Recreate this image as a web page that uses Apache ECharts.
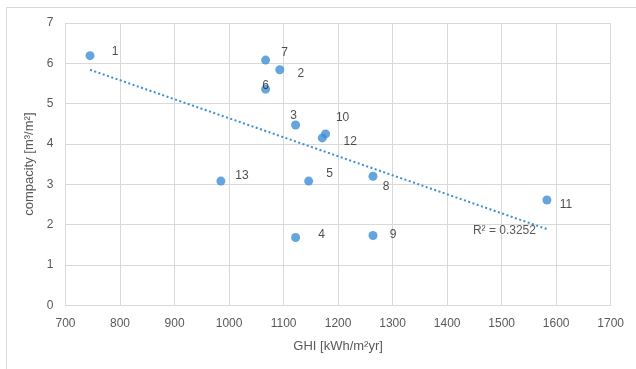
<!DOCTYPE html>
<html>
<head>
<meta charset="utf-8">
<script src="https://cdn.jsdelivr.net/npm/echarts@6/dist/echarts.min.js"></script>
<style>
  html, body { margin: 0; padding: 0; background: #fff; }
  #chart { width: 636px; height: 369px; }
</style>
</head>
<body>
<div id="chart"></div>
<script>
// Case numbers, annual irradiation and compacity of each building
const caseIds = ['1', '2', '3', '4', '5', '6', '7', '8', '9', '10', '11', '12', '13'];
const ghi = [745, 1093, 1122, 1122, 1146, 1067, 1067, 1264, 1264, 1177, 1583, 1171, 985];
const compacity = [6.19, 5.84, 4.47, 1.68, 3.08, 5.36, 6.08, 3.20, 1.73, 4.25, 2.61, 4.15, 3.08];

// Linear trend line end points and its fit quality
const trendX = [745, 1583];
const trendY = [5.84, 1.89];
const rSquaredText = 'R² = 0.3252';

// Axis ranges
const xTicks = [700, 1700, 100];
const yTicks = [0, 7, 1];

// Where each case label sits relative to its marker [dx, dy]
const labelShift = [
  [25, -4], [21, 4], [-2, -9], [26, -3], [21, -7], [0, -3], [19, -7],
  [13, 10], [20, -1], [17, -16], [19, 5], [28, 4], [21, -5]
];

const blue = '#3d8ed4';
const textGray = '#595959';
const font = 'Liberation Sans';

const points = ghi.map((g, i) => ({
  value: [g, compacity[i]],
  label: {
    show: true,
    formatter: caseIds[i],
    position: 'inside',
    offset: labelShift[i],
    color: '#222',
    fontSize: 12,
    fontFamily: font
  }
}));

const chart = echarts.init(document.getElementById('chart'), null, { renderer: 'canvas' });
chart.setOption({
  animation: false,
  backgroundColor: '#fff',
  graphic: [{
    type: 'rect',
    shape: { x: 6.5, y: 7.5, width: 700, height: 450 },
    style: { fill: 'none', stroke: '#d9d9d9', lineWidth: 1 },
    silent: true
  }],
  grid: { left: 65.5, right: 25.3, top: 23, bottom: 63.7 },
  xAxis: {
    type: 'value',
    min: xTicks[0], max: xTicks[1], interval: xTicks[2],
    name: 'GHI [kWh/m²yr]',
    nameLocation: 'middle',
    nameGap: 35,
    nameTextStyle: { color: textGray, fontSize: 13, fontFamily: font },
    axisLine: { show: true, lineStyle: { color: '#d9d9d9', width: 1 } },
    axisTick: { show: false },
    axisLabel: { color: textGray, fontSize: 12, fontFamily: font, margin: 12, formatter: v => String(v) },
    splitLine: { show: true, lineStyle: { color: '#d9d9d9', width: 1 } }
  },
  yAxis: {
    type: 'value',
    min: yTicks[0], max: yTicks[1], interval: yTicks[2],
    name: 'compacity [m³/m²]',
    nameLocation: 'middle',
    nameGap: 25,
    nameTextStyle: { color: textGray, fontSize: 13, fontFamily: font },
    axisLine: { show: false },
    axisTick: { show: false },
    axisLabel: { color: textGray, fontSize: 12, fontFamily: font, margin: 12 },
    splitLine: { show: true, lineStyle: { color: '#d9d9d9', width: 1 } }
  },
  series: [
    {
      type: 'line',
      data: trendX.map((x, i) => [x, trendY[i]]),
      showSymbol: false,
      symbol: 'none',
      lineStyle: { color: blue, width: 2, type: [2, 2.5] },
      endLabel: {
        show: true,
        formatter: rSquaredText,
        color: textGray,
        fontSize: 12,
        fontFamily: font,
        offset: [-82, 2]
      },
      z: 2,
      silent: true
    },
    {
      type: 'scatter',
      data: points,
      symbol: 'circle',
      symbolSize: 9,
      itemStyle: { color: blue },
      z: 3
    }
  ]
});
</script>
</body>
</html>
